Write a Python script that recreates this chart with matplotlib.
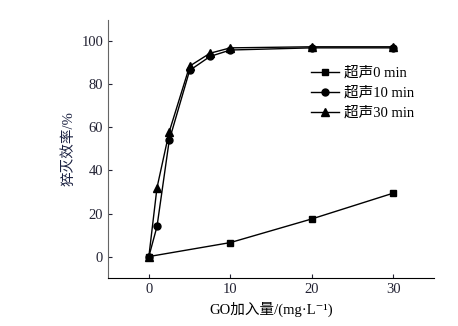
import numpy as np
import matplotlib.pyplot as plt

plt.rcParams['font.family'] = ['Liberation Serif', 'Noto Sans CJK SC', 'DejaVu Serif']

# GO dose (mg/L) and quenching efficiency (%)
x0 = [0, 10, 20, 30]
y0 = [0, 6.5, 17.5, 29.5]

x10 = [0, 1, 2.5, 5, 7.5, 10, 20, 30]
y10 = [0, 14, 54, 86.5, 93, 96, 97, 97]

x30 = [0, 1, 2.5, 5, 7.5, 10, 20, 30]
y30 = [0, 32, 58, 88.5, 94.5, 97, 97.5, 97.5]

fig = plt.figure(figsize=(4.58, 3.26), dpi=100)
axe = fig.add_axes([0.236, 0.147, 0.712, 0.792])

axe.plot(x0, y0, 's-', c='black', lw=1, ms=5, label='超声0 min')
axe.plot(x10, y10, 'o-', c='black', lw=1, ms=5, label='超声10 min')
axe.plot(x30, y30, '^-', c='black', lw=1, ms=6, label='超声30 min')

axe.set_xlim(-5, 35)
axe.set_ylim(-10, 110)
axe.set_xticks([0, 10, 20, 30])
axe.set_yticks([0, 20, 40, 60, 80, 100])
axe.tick_params(direction='in', length=3, labelsize=10.5, colors='#222233')
axe.spines['top'].set_visible(False)
axe.spines['right'].set_visible(False)
axe.spines['left'].set_color('#666666')

axe.set_xlabel('GO加入量/(mg·L⁻¹)', fontsize=10.5)
axe.set_ylabel('猝灭效率/%', fontsize=10.5, color='#1a2040')

axe.legend(loc='upper right', bbox_to_anchor=(0.98, 0.87), frameon=False,
           fontsize=10.5, handlelength=1.9, handletextpad=0.4, labelspacing=0.45)

fig.savefig('out.png')
